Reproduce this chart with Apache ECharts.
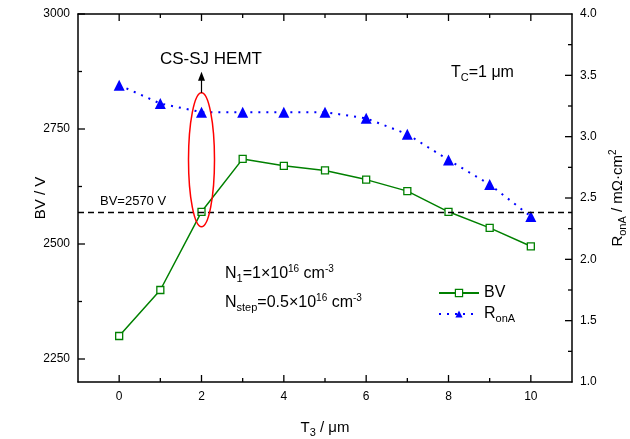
<!DOCTYPE html>
<html>
<head>
<meta charset="utf-8">
<script src="https://cdn.jsdelivr.net/npm/echarts@6/dist/echarts.min.js"></script>
<style>
  html, body { margin: 0; padding: 0; background: #fff; }
  #chart { width: 630px; height: 439px; }
</style>
</head>
<body>
<div id="chart"></div>
<script>
// 数据
var t3 = [0, 1, 2, 3, 4, 5, 6, 7, 8, 9, 10]
var bv = [2300, 2400, 2570, 2685, 2670, 2660, 2640, 2615, 2570, 2535, 2495]
var ronA = [3.42, 3.27, 3.20, 3.20, 3.20, 3.20, 3.15, 3.02, 2.81, 2.61, 2.35]
var t3Labels = [0, 2, 4, 6, 8, 10]
var t3Minor = [1, 3, 5, 7, 9]
var bvTicks = [2250, 2500, 2750, 3000]
var bvMinorTicks = [2375, 2625, 2875]
var ronATicks = [1.5, 2.0, 2.5, 3.0, 3.5]
var ronAMinorTicks = [1.25, 1.75, 2.25, 2.75, 3.25, 3.75]
var bvLimit = 2570

var font = 'Liberation Sans'
var rich = {
  sub: { fontFamily: font, fontSize: 11, padding: [9, 0, 0, 0], color: '#000' },
  sup: { fontFamily: font, fontSize: 10, padding: [0, 0, 9, 0], color: '#000' }
}

function pairs(xs, ys) {
  return xs.map(function (x, i) { return [x, ys[i]] })
}

function line() {
  return { show: true, onZero: false, lineStyle: { color: '#000', width: 1.5 } }
}

var chart = echarts.init(document.getElementById('chart'))

chart.setOption({
  animation: false,
  grid: { left: 78, right: 58, top: 14, bottom: 57, outerBoundsMode: 'none' },
  xAxis: [
    {
      type: 'value', position: 'bottom', min: -1, max: 11,
      axisLine: line(),
      axisTick: { show: false },
      axisLabel: { show: true, customValues: t3Labels, color: '#000', fontFamily: font, fontSize: 12, margin: 9 },
      splitLine: { show: false },
      name: 'T{sub|3} / μm', nameLocation: 'middle', nameGap: 36, nameMoveOverlap: false,
      nameTextStyle: { color: '#000', fontFamily: font, fontSize: 15, rich: rich }
    },
    {
      type: 'value', position: 'top', min: -1, max: 11,
      axisLine: line(),
      axisTick: { show: false },
      axisLabel: { show: false },
      splitLine: { show: false }
    }
  ],
  yAxis: [
    {
      type: 'value', position: 'left', min: 2200, max: 3000,
      axisLine: line(),
      axisTick: { show: false },
      axisLabel: {
        customValues: bvTicks, color: '#000', fontFamily: font, fontSize: 12, margin: 8,
        formatter: function (v) { return String(v) }
      },
      splitLine: { show: false },
      name: 'BV / V', nameLocation: 'middle', nameGap: 30, nameMoveOverlap: false,
      nameTextStyle: { color: '#000', fontFamily: font, fontSize: 15 }
    },
    {
      type: 'value', position: 'right', min: 1, max: 4, interval: 0.5,
      axisLine: line(),
      axisTick: { show: false },
      axisLabel: {
        color: '#000', fontFamily: font, fontSize: 12, margin: 8,
        formatter: function (v) { return v.toFixed(1) }
      },
      splitLine: { show: false },
      name: 'R{sub|onA} / mΩ·cm{sup|2}', nameLocation: 'middle', nameGap: 36, nameRotate: 90,
      nameMoveOverlap: false,
      nameTextStyle: { color: '#000', fontFamily: font, fontSize: 15, rich: rich }
    }
  ],
  legend: {
    left: 433, top: 280, orient: 'vertical', itemWidth: 40, itemHeight: 9, itemGap: 5,
    data: ['BV', 'RonA'],
    itemStyle: { borderWidth: 1.2 },
    formatter: function (name) { return name === 'RonA' ? 'R{sub|onA}' : name },
    textStyle: { color: '#000', fontFamily: font, fontSize: 16, rich: rich }
  },
  series: [
    {
      name: 'BV', type: 'line', xAxisIndex: 0, yAxisIndex: 0,
      data: pairs(t3, bv),
      symbol: 'rect', symbolSize: 7,
      itemStyle: { color: '#fff', borderColor: '#008000', borderWidth: 1.3 },
      lineStyle: { color: '#008000', width: 1.5 },
      markLine: {
        silent: true, symbol: 'none',
        lineStyle: { color: '#000', width: 1.3, type: [6, 4] },
        label: {
          show: true, position: 'insideStartTop', formatter: 'BV=2570 V',
          color: '#000', fontFamily: font, fontSize: 13, distance: [22, 4]
        },
        data: [{ yAxis: bvLimit }]
      },
      z: 3
    },
    {
      name: 'RonA', type: 'line', xAxisIndex: 0, yAxisIndex: 1,
      data: pairs(t3, ronA),
      symbol: 'triangle', symbolSize: 11,
      itemStyle: { color: '#0000ff' },
      lineStyle: { color: '#0000ff', width: 2, type: [2, 6] },
      z: 4
    }
  ]
})

// 刻度（朝内，主刻度 7px，次刻度 4px），按坐标轴换算像素
var xLeft = chart.convertToPixel({ xAxisIndex: 0 }, -1)
var xRight = chart.convertToPixel({ xAxisIndex: 0 }, 11)
var yTop = chart.convertToPixel({ yAxisIndex: 0 }, 3000)
var yBottom = chart.convertToPixel({ yAxisIndex: 0 }, 2200)
var ticks = []

function tickLine(x1, y1, x2, y2) {
  ticks.push({ type: 'line', shape: { x1: x1, y1: y1, x2: x2, y2: y2 }, style: { stroke: '#000', lineWidth: 1.3 }, z: 5, silent: true })
}
function xTicks(values, len) {
  values.forEach(function (v) {
    var p = chart.convertToPixel({ xAxisIndex: 0 }, v)
    tickLine(p, yBottom, p, yBottom - len)
    tickLine(p, yTop, p, yTop + len)
  })
}
function yTicks(axis, values, len, atX, dir) {
  values.forEach(function (v) {
    var p = chart.convertToPixel({ yAxisIndex: axis }, v)
    tickLine(atX, p, atX + dir * len, p)
  })
}
xTicks(t3Labels, 7)
xTicks(t3Minor, 4)
yTicks(0, bvTicks, 7, xLeft, 1)
yTicks(0, bvMinorTicks, 4, xLeft, 1)
yTicks(1, ronATicks, 7, xRight, -1)
yTicks(1, ronAMinorTicks, 4, xRight, -1)

// 标注
var c = chart.convertToPixel({ xAxisIndex: 0, yAxisIndex: 0 }, [t3[2], 2683])
chart.setOption({
  graphic: ticks.concat([
    { type: 'ellipse', shape: { cx: c[0], cy: c[1], rx: 13, ry: 67 }, style: { fill: 'none', stroke: '#ff0000', lineWidth: 1.5 }, z: 10 },
    { type: 'line', shape: { x1: c[0], y1: c[1] - 67, x2: c[0], y2: c[1] - 82 }, style: { stroke: '#000', lineWidth: 1.2 }, z: 10 },
    { type: 'polygon', shape: { points: [[c[0], c[1] - 88], [c[0] - 3.5, c[1] - 79], [c[0] + 3.5, c[1] - 79]] }, style: { fill: '#000' }, z: 10 },
    { type: 'text', x: 211, y: 59, style: { text: 'CS-SJ HEMT', fill: '#000', font: '17px ' + font, align: 'center', verticalAlign: 'middle' }, z: 10 },
    { type: 'text', x: 451, y: 73, style: { text: 'T{sub|C}=1 μm', fill: '#000', font: '16px ' + font, verticalAlign: 'middle', rich: rich }, z: 10 },
    { type: 'text', x: 225, y: 274, style: { text: 'N{sub|1}=1×10{sup|16} cm{sup|-3}', fill: '#000', font: '16px ' + font, verticalAlign: 'middle', rich: rich }, z: 10 },
    { type: 'text', x: 225, y: 303, style: { text: 'N{sub|step}=0.5×10{sup|16} cm{sup|-3}', fill: '#000', font: '16px ' + font, verticalAlign: 'middle', rich: rich }, z: 10 }
  ])
})
</script>
</body>
</html>
